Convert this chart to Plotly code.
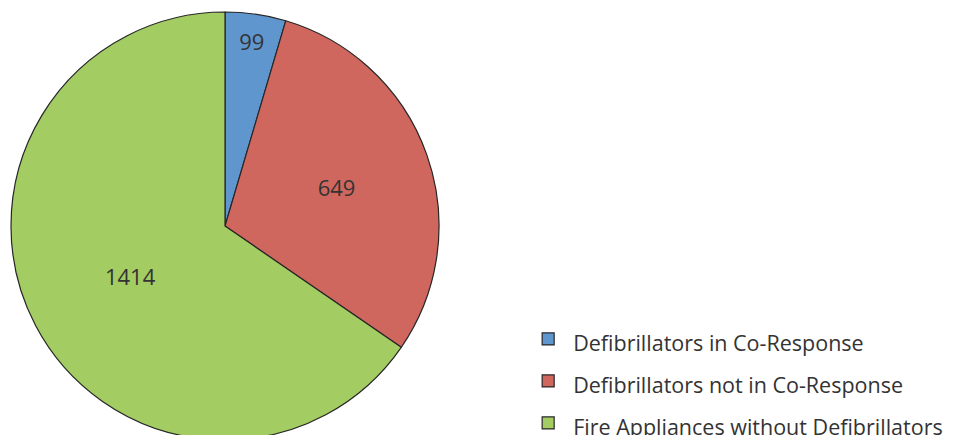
import plotly.graph_objects as go

labels = ["Defibrillators in Co-Response", "Defibrillators not in Co-Response",
          "Fire Appliances without Defibrillators"]
values = [99, 649, 1414]
colors = ["#6096CE", "#D0675F", "#A3CD63"]

W, H = 954, 450

# legend font kept large so rows are spaced out; visible text is smaller
legend_text = ['<span style="font-size:21.5px">%s</span>' % s for s in labels]

fig = go.Figure(go.Pie(
    labels=legend_text,
    values=values,
    sort=False,
    direction="clockwise",
    rotation=0,
    marker=dict(colors=colors, line=dict(color="#262626", width=1.2)),
    textinfo="value",
    textposition="inside",
    insidetextorientation="horizontal",
    textfont=dict(size=22, color="#333333", family="Open Sans"),
    domain=dict(x=[3 / W, 431 / W], y=[0, 1]),
    hoverinfo="value",
))

fig.update_layout(
    width=W,
    height=H,
    margin=dict(l=0, r=0, t=4, b=18),
    paper_bgcolor="white",
    font=dict(family="Open Sans", color="#333333"),
    legend=dict(
        x=0.540, y=0.297, xanchor="left", yanchor="top",
        font=dict(size=30, color="#333333"),
        itemwidth=40,
    ),
)

fig.write_html("out.html")
